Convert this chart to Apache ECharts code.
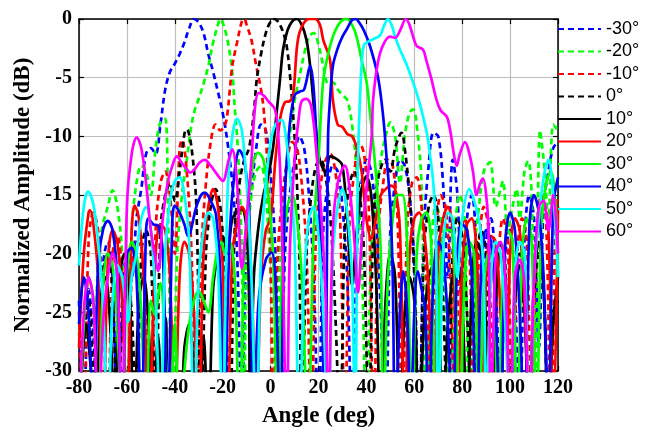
<!DOCTYPE html>
<html>
<head>
<meta charset="utf-8">
<script src="https://cdn.jsdelivr.net/npm/echarts@6/dist/echarts.min.js"></script>
<style>html,body{margin:0;padding:0;background:#fff}#c{width:651px;height:433px}</style>
</head>
<body>
<div id="c"></div>
<script>
// ---- data (angle in deg, normalized amplitude in dB) ----
var seriesNames = ['-30°','-20°','-10°','0°','10°','20°','30°','40°','50°','60°'];
var xMin = -80, xMax = 120, xStep = 20;
var yMin = -30, yMax = 0, yStep = 5;

var s_m30 = [[-80,-24],[-78,-35],[-76,-23],[-74,-27],[-72,-35],[-70,-21],[-68,-19],[-66,-22],[-64,-35],[-62,-24],[-60,-20],[-58,-22],[-56,-17],[-54,-14.5],[-52,-11.5],[-50,-11],[-48,-11.5],[-46,-9],[-44,-6],[-42,-4.5],[-40,-3.8],[-38,-3],[-36,-2],[-34,-0.8],[-32,0],[-30,-0.3],[-28,-1.2],[-26,-3],[-24,-4.5],[-22,-6.2],[-20,-8],[-18,-10.5],[-16,-14],[-14,-20],[-12,-35],[-10,-18],[-8,-14.5],[-6,-11],[-4,-9],[-2,-9.5],[0,-13],[2,-20],[4,-35],[6,-20],[8,-15],[10,-12],[12,-10],[14,-11],[16,-15],[18,-22],[20,-35],[22,-18],[24,-14],[26,-12.5],[28,-13],[30,-16],[32,-22],[34,-35],[36,-20],[38,-14],[40,-12],[42,-13],[44,-17],[46,-25],[48,-35],[50,-18],[52,-14],[54,-12],[56,-12.5],[58,-15],[60,-21],[62,-35],[64,-18],[66,-12.5],[68,-9.7],[70,-10],[72,-14],[74,-22],[76,-12],[78,-15],[80,-25],[82,-17],[84,-15],[86,-20],[88,-35],[90,-19],[92,-17],[94,-22],[96,-35],[98,-20],[100,-18],[102,-23],[104,-35],[106,-19],[108,-15],[110,-17],[112,-28],[114,-16],[116,-13],[118,-11],[120,-10.5]];

var s_m20 = [[-80,-27],[-78,-22],[-76,-25],[-74,-35],[-72,-20],[-70,-17.5],[-68,-16],[-66,-14.6],[-64,-16],[-62,-20],[-60,-35],[-58,-18],[-56,-14],[-54,-12.5],[-52,-13],[-50,-15],[-48,-11],[-46,-8.8],[-44,-8.5],[-42.8,-17],[-41,-35],[-39,-20],[-37,-15],[-35,-12],[-33,-9],[-31.6,-7.7],[-30,-6.8],[-28,-5.5],[-26,-4],[-24,-2],[-22,-0.5],[-21,0],[-20,-0.3],[-18,-1.8],[-16,-4.5],[-15,-7.5],[-14,-10],[-13,-14],[-12,-20],[-11,-35],[-10,-20],[-8,-15],[-6,-13],[-4,-12.5],[-2,-15],[0,-22],[2,-35],[4,-20],[6,-14],[8,-10],[10,-7],[12,-5],[14,-3],[16,-1.5],[18,-1.2],[20,-2.2],[22,-4],[24,-5.5],[26,-5.4],[28,-6],[30,-6.5],[32,-6.9],[34,-9],[36,-13],[38,-20],[40,-35],[42,-20],[44,-15],[46,-12],[48,-10],[50,-8.8],[52,-10],[54,-14],[56,-10],[58,-8],[59.5,-7.7],[61,-9],[63,-14],[65,-35],[67,-20],[69,-16],[71,-17],[73,-25],[75,-35],[77,-18],[79,-15],[81,-17],[83,-35],[85,-20],[87,-16],[89,-13],[91.6,-12.2],[94,-16],[96,-14.5],[97,-13.8],[99,-18],[101,-16],[102.7,-14.5],[104,-17],[106,-13],[107.5,-12.1],[109,-15],[110.5,-30],[112.5,-9.5],[114,-12],[116,-17],[118,-9],[120,-9.5]];

var s_m10 = [[-80,-25],[-78,-35],[-76,-19],[-74,-16.5],[-72,-18],[-70,-24],[-68,-35],[-66,-20],[-64,-18.5],[-62,-22],[-60,-35],[-58,-22],[-56,-19],[-54,-19.5],[-52,-25],[-50,-35],[-48,-18],[-46,-14],[-44,-13],[-42,-15],[-40,-20],[-38,-11],[-37,-10.3],[-35,-13],[-33,-20],[-31,-35],[-29,-20],[-27,-14],[-25,-10.5],[-23,-9],[-21,-9.5],[-19,-9],[-18,-8],[-17,-6],[-16,-4],[-14,-2],[-12,-0.2],[-11,0],[-10,-0.5],[-8,-1.8],[-6,-4],[-4,-6],[-3,-7.5],[-2,-10],[-1,-14],[0,-20],[1,-35],[3,-20],[5,-15],[7,-12],[9,-10.5],[11,-11],[13,-14],[15,-20],[17,-35],[19,-18],[21,-14],[23,-12],[25,-11.5],[27,-13],[29,-17],[31,-35],[33,-17],[35,-13],[37,-10.5],[39,-11.5],[41,-16],[43,-35],[45,-18],[47,-14],[49,-12],[51,-12.5],[53,-17],[55,-35],[57,-18],[59,-14],[61,-13.5],[63,-16],[65,-22],[67,-35],[69,-19],[71,-15],[73,-16],[75,-22],[77,-35],[79,-19],[81,-17],[83,-20],[85,-35],[87,-20],[89,-16],[91,-18],[93,-35],[95,-21],[97,-17],[99,-19],[101,-35],[103,-20],[105,-17],[107,-19],[109,-35],[111,-19],[113,-15],[115,-17],[117,-35],[119,-17],[120,-15]];

var s_0 = [[-80,-35],[-78,-27],[-76,-24],[-74,-30],[-72,-35],[-70,-22],[-68,-20],[-66,-23],[-64,-35],[-62,-26],[-60,-22],[-58,-25],[-56,-35],[-54,-20],[-52,-18],[-50,-20],[-48,-35],[-46,-18],[-44,-15],[-42,-14],[-40,-15.5],[-38,-13],[-36,-9.8],[-35,-9.4],[-33,-11],[-31,-16],[-29,-35],[-27,-20],[-25,-16],[-23,-14.5],[-21,-16],[-19,-22],[-17,-35],[-15,-18],[-13,-14],[-11,-12],[-9,-11],[-7,-8],[-5.8,-5.2],[-4,-3],[-2,-1.2],[0,-0.2],[1.5,0],[3,-0.2],[5,-1],[6.7,-2.3],[8,-4.6],[9,-7],[10,-10],[11,-14],[12,-20],[13,-35],[15,-20],[17,-15],[19,-12.5],[21,-12],[23,-13.5],[25,-17],[27,-25],[29,-35],[31,-18],[33,-14],[35,-13],[37,-14.5],[39,-20],[41,-35],[43,-17],[45,-13.5],[47.8,-12],[50,-13],[52,-11],[54.7,-9.7],[56,-11],[58,-15],[60,-22],[62,-35],[64,-20],[66,-16],[68,-15],[70,-17],[72,-24],[74,-35],[76,-20],[78,-17],[80,-18.5],[82,-25],[84,-35],[86,-21],[88,-18],[90,-20],[92,-35],[94,-23],[96,-19],[98,-21],[100,-35],[102,-24],[104,-20],[106,-22],[108,-35],[110,-24],[112,-20],[114,-23],[116,-35],[118,-25],[120,-24]];

var s_10 = [[-80,-35],[-77,-26],[-75,-30],[-73,-35],[-71,-24],[-69,-22],[-67,-26],[-65,-35],[-63,-22],[-61,-20],[-59,-23],[-57,-35],[-55,-24],[-53,-22],[-51,-26],[-49,-35],[-47,-27],[-45,-35],[-43.7,-25.5],[-42,-35],[-38,-35],[-36,-28],[-34,-26],[-32,-30],[-30,-35],[-28,-27],[-26,-35],[-24,-23],[-22,-20],[-20,-18.5],[-18,-20],[-16,-17],[-14,-16.5],[-12,-16.2],[-10,-18],[-9,-24],[-8.6,-35],[-7,-22],[-5,-17.6],[-3,-15],[-1,-13.4],[1,-11],[2.5,-8],[4,-5],[5.2,-2.6],[7,-1],[9,-0.2],[10.9,0],[13,-0.5],[15,-1.8],[16.5,-4],[17.8,-6.9],[19,-9.5],[20.5,-12],[23,-13],[25,-11.7],[28,-12],[30,-12.5],[32,-17],[34,-22.7],[36,-18],[38,-14.5],[40,-13.4],[42,-15],[44,-22],[46,-35],[48,-24],[50,-20],[52,-22],[54,-35],[56,-25],[58,-22],[60,-24],[62,-35],[64,-26],[66,-22],[68,-21],[70,-24],[72,-35],[74,-26],[76,-22],[78,-21],[80,-24],[82,-35],[84,-23],[86,-19],[88,-20],[90,-26],[92,-35],[94,-24],[96,-20],[98,-22],[100,-35],[102,-24],[104,-21],[106,-25],[108,-35],[110,-22],[112,-19],[114,-23],[116,-35],[118,-26],[120,-22]];

var s_20 = [[-80,-28],[-78,-20],[-76,-16.5],[-75.4,-16.3],[-74,-17.5],[-72,-22],[-70,-35],[-68,-21],[-66,-18],[-64,-19],[-62,-24],[-60,-35],[-58,-18],[-56.8,-15.9],[-55,-17],[-53,-22],[-51,-35],[-48,-20],[-46,-17.5],[-44,-18],[-42,-22],[-40,-35],[-38,-22],[-36,-19],[-34,-20],[-32,-25],[-30,-35],[-28,-20],[-26,-16],[-24,-14.5],[-22,-16],[-20,-21],[-18,-35],[-16,-20],[-14,-17.5],[-12,-16],[-10,-17],[-8,-22],[-6,-35],[-4,-22],[-2,-18],[0,-17],[2,-12],[4,-8.5],[6,-7.1],[8,-7],[9.4,-6.5],[10.9,-2.6],[12,-1.2],[14,-0.3],[16,0],[18.5,0],[20.6,-0.5],[22,-1.8],[24.8,-3.5],[26,-6.9],[28,-9],[30,-9.2],[32,-9.8],[34,-10],[36,-11],[38,-13],[40,-17],[42,-18.7],[44,-17],[46,-15],[48,-14.5],[50,-14.2],[52,-14.5],[54,-18],[56,-35],[58,-20],[60,-17],[62,-16.5],[64,-18],[66,-23],[68,-35],[70,-20],[72,-17],[74,-16],[76,-18],[78,-35],[80,-21],[82,-17.5],[84,-17],[86,-20],[88,-35],[90,-22],[92,-18.5],[94,-19],[96,-25],[98,-35],[100,-20],[102,-17],[104,-18],[106,-24],[108,-35],[110,-22],[112,-17],[114,-16],[116,-18],[118,-35],[120,-16]];

var s_30 = [[-80,-35],[-78,-26],[-76,-22],[-74,-24],[-72,-35],[-70,-23],[-68,-20],[-66,-21],[-64,-26],[-62,-35],[-60,-22],[-58,-19],[-56,-20],[-54,-25],[-52,-35],[-50,-24],[-48.4,-25.2],[-46,-22.5],[-44,-28],[-42,-35],[-40,-26],[-38,-35],[-36,-30],[-34,-26],[-32,-24],[-30,-23.2],[-28,-24],[-26,-25],[-24,-22],[-22,-19.5],[-20.7,-19],[-19,-20],[-17,-19],[-15,-22],[-13,-35],[-11,-20],[-9,-15],[-7,-12],[-5.2,-11.4],[-3,-12],[-1,-15],[1,-20],[3,-35],[5,-20],[7,-16],[9,-15],[11,-17],[13,-22],[15.6,-35],[18,-18],[20,-12],[21.9,-5.4],[24,-3],[26,-1.5],[28,-0.6],[30,-0.1],[31.8,0],[34,-0.5],[35.9,-1.5],[38,-3.5],[40.1,-5.4],[41.5,-8],[43,-11],[44.5,-14.5],[46,-20],[47,-35],[49,-22],[51,-17],[53,-15],[55,-15],[57,-19],[59,-35],[61,-20],[63,-17],[65,-16.5],[67,-19],[69,-35],[71,-21],[73,-18],[75,-18],[77,-22],[79,-35],[81,-22],[83,-19],[85,-20],[87,-35],[89,-23],[91,-20],[93,-21],[95,-35],[97,-22],[99,-18],[101,-19],[103,-35],[105,-20],[107,-17],[109,-19],[111,-35],[113,-18],[115,-14],[117,-13],[119,-16],[120,-22]];

var s_40 = [[-80,-26],[-78,-22],[-76,-25],[-74,-35],[-72,-21],[-70,-18],[-68,-17.2],[-66,-18],[-64,-22],[-62,-35],[-60,-20],[-58,-19.5],[-56,-22],[-54,-35],[-52,-18],[-51,-17],[-49,-17.5],[-47,-17.6],[-45,-20],[-43,-35],[-41,-17],[-40,-15.9],[-38,-16.5],[-36,-17.5],[-34.5,-18.5],[-31,-16],[-29,-15],[-27.5,-14.8],[-25,-15.5],[-22.8,-16.7],[-21,-22],[-19.5,-35],[-17,-18],[-15,-13],[-13,-11.2],[-11,-12],[-9,-16],[-7,-35],[-5,-24],[-2,-20.5],[0.4,-19.9],[2,-22],[4,-35],[6,-15],[8,-9],[10,-6.5],[12,-6.2],[14,-6],[16.5,-4],[18,-6],[19.5,-12],[21,-20],[22.7,-35],[24,-10],[24.8,-6.9],[26,-4],[28,-2.5],[30,-1.5],[32,-0.8],[34,-0.1],[35.5,0],[37,-0.3],[39,-1],[41.5,-2.3],[44.8,-4.9],[47,-8.3],[48.5,-12],[50,-16],[51,-22],[52,-35],[54,-25],[55.4,-21.5],[57,-25],[58.5,-35],[60,-25],[61.5,-21.5],[63,-23],[64.5,-24.7],[66,-35],[68,-22],[70,-19],[72,-20],[74,-26],[76,-35],[78,-20],[80,-17.5],[82,-18],[84,-22],[86,-35],[88,-21],[90,-18],[92,-19],[94,-25],[96,-35],[98,-19],[100,-16.5],[102,-18],[104,-25],[106,-35],[108,-18],[110,-15],[112,-16.5],[114,-22],[116,-35],[118,-16],[120,-13.5]];

var s_50 = [[-80,-21],[-78,-16],[-76.2,-14.7],[-74,-15.8],[-72,-19],[-70,-24],[-68,-35],[-66,-24],[-64,-21],[-62,-22],[-59.5,-25.8],[-58,-22],[-56,-20],[-54,-17],[-52,-16],[-50,-18],[-48,-24],[-46,-35],[-44,-20],[-42,-15.5],[-40,-13.8],[-38,-13.5],[-36,-15],[-34,-19],[-32,-35],[-30,-22],[-28,-18],[-26,-16.5],[-24,-17],[-22,-21],[-20,-35],[-18,-15],[-16,-10],[-14,-8.5],[-12,-9.5],[-10,-14],[-8,-22],[-6,-35],[-4,-20],[-2,-14],[0,-10.5],[2,-9],[4.6,-8.6],[6,-9.5],[8,-13],[10,-19],[12,-35],[14,-22],[16,-17],[18,-16],[20,-18.5],[22,-25],[24,-35],[26,-20],[28,-16],[30,-14.5],[32,-16.5],[34,-22],[35.2,-35],[36.5,-12],[37.3,-6.9],[38,-4],[39,-2.2],[41,-1.9],[43,-1.7],[45.7,-1.4],[47.5,-0.5],[49,0],[50.5,-0.5],[52,-1.5],[54,-2.6],[57,-4],[59.5,-5.4],[62,-7],[65.2,-9.7],[66.5,-11.5],[67.9,-13.9],[69,-18],[70,-35],[72,-20],[74,-16.5],[76,-17],[78,-22],[80,-17],[83,-14.5],[85,-15.5],[87.4,-17.6],[89,-22],[90,-35],[92,-22],[94,-19],[96,-20],[98,-26],[100,-35],[102,-22],[104,-19],[106,-20],[108,-35],[110,-22],[112,-17],[114,-13.5],[116,-12],[118,-15],[120,-22]];

var s_60 = [[-80,-35],[-78,-25],[-76,-22],[-74,-24],[-72,-35],[-70,-26],[-68,-22],[-66,-20],[-64,-22],[-62,-35],[-60,-16],[-58,-11.5],[-55.9,-10.1],[-54,-11],[-52,-14],[-50,-18],[-48.4,-20.1],[-47,-21.5],[-45,-17],[-43,-14],[-41,-12.5],[-39.2,-11.7],[-37,-12.3],[-35,-12.8],[-33.6,-13.1],[-31.7,-12.8],[-29.5,-12.2],[-27.5,-12],[-25,-12.5],[-22.5,-13.2],[-20,-13.8],[-17.5,-12],[-16,-11.1],[-14,-14],[-12,-21.3],[-10,-17],[-8,-12],[-6.5,-7.5],[-5,-6.3],[-3,-6.5],[-1,-7],[1.8,-7.7],[3,-9.5],[4,-13],[5,-20],[6.7,-35],[8,-20],[10,-12],[12,-8],[13,-7],[15,-6.8],[17,-7.5],[19,-11],[21,-16],[23,-24],[24,-35],[26,-18],[28,-14],[31,-12.5],[33,-14.5],[35,-19],[36.5,-23.3],[38,-19],[40,-14.5],[42.2,-10],[42.8,-6.9],[44.8,-3.7],[47,-2.2],[49.9,-1.5],[52,-1.6],[54,-1],[56.5,0],[58,-0.5],[59.5,-1.5],[61,-2.3],[63.6,-2.6],[65,-3.5],[67,-5],[69.3,-6.9],[71,-7.8],[73.5,-8.3],[75,-9.5],[76.5,-11.5],[77.7,-12.5],[79,-11.5],[81.2,-10.5],[83,-11.5],[84.5,-13],[86,-15],[87.5,-14],[88.7,-13.6],[90,-15],[91,-18],[92,-35],[94,-20],[96,-19],[98,-22],[100,-35],[102,-22],[104,-20.5],[106,-22.5],[108,-35],[110,-22],[112,-16],[114,-15.5],[116,-18],[118,-15],[120,-20]];

var seriesData = [s_m30, s_m20, s_m10, s_0, s_10, s_20, s_30, s_40, s_50, s_60];
var seriesColors = ['#0000ff','#00ff00','#ff0000','#000000','#000000','#ff0000','#00ff00','#0000ff','#00ffff','#ff00ff'];
var seriesDashed = [true,true,true,true,false,false,false,false,false,false];

var chart = echarts.init(document.getElementById('c'), null, {renderer: 'canvas'});
var serifBold = {fontFamily: '"Liberation Serif","Times New Roman",serif', fontWeight: 'bold', color: '#000', fontSize: 20};

var series = seriesData.map(function (d, i) {
  return {
    name: seriesNames[i],
    type: 'line',
    data: d,
    xAxisIndex: 0, yAxisIndex: 0,
    symbol: 'none',
    smooth: 0.35,
    clip: true,
    silent: true,
    animation: false,
    lineStyle: {color: seriesColors[i], width: 2.7, type: seriesDashed[i] ? [6, 4] : 'solid'},
    itemStyle: {color: seriesColors[i]}
  };
});

chart.setOption({
  backgroundColor: '#fff',
  animation: false,
  grid: {left: 79, right: 93, top: 19, bottom: 60, show: false},
  legend: {
    data: seriesNames,
    orient: 'vertical',
    left: 557, top: 20,
    padding: 0,
    itemWidth: 43, itemHeight: 14, itemGap: 4.5,
    itemStyle: {opacity: 0, color: 'rgba(0,0,0,0)', borderWidth: 0},
    textStyle: {fontFamily: '"Liberation Sans",Arial,sans-serif', fontSize: 18, color: '#000', lineHeight: 18},
    selectedMode: false
  },
  xAxis: [{
    type: 'value', min: xMin, max: xMax, interval: xStep, position: 'bottom',
    axisLine: {show: true, onZero: false, lineStyle: {color: '#000', width: 1.5}},
    axisTick: {show: true, inside: true, length: 5, lineStyle: {color: '#000', width: 1.2}},
    axisLabel: Object.assign({margin: 7}, serifBold),
    splitLine: {show: true, lineStyle: {color: '#bdbdbd', width: 1.2}},
    name: 'Angle (deg)', nameLocation: 'middle', nameGap: 34,
    nameTextStyle: Object.assign({}, serifBold, {fontSize: 23})
  }, {
    type: 'value', min: xMin, max: xMax, interval: xStep, position: 'top',
    axisLine: {show: true, onZero: false, lineStyle: {color: '#000', width: 1.5}},
    axisTick: {show: true, inside: true, length: 5, lineStyle: {color: '#000', width: 1.2}},
    axisLabel: {show: false}, splitLine: {show: false}
  }],
  yAxis: [{
    type: 'value', min: yMin, max: yMax, interval: yStep, position: 'left',
    axisLine: {show: true, onZero: false, lineStyle: {color: '#000', width: 1.5}},
    axisTick: {show: true, inside: true, length: 5, lineStyle: {color: '#000', width: 1.2}},
    axisLabel: Object.assign({margin: 7}, serifBold),
    splitLine: {show: true, lineStyle: {color: '#bdbdbd', width: 1.2}},
    name: 'Normalized Amplitude (dB)', nameLocation: 'middle', nameGap: 41,
    nameTextStyle: Object.assign({}, serifBold, {fontSize: 23})
  }, {
    type: 'value', min: yMin, max: yMax, interval: yStep, position: 'right',
    axisLine: {show: true, onZero: false, lineStyle: {color: '#000', width: 1.5}},
    axisTick: {show: true, inside: true, length: 5, lineStyle: {color: '#000', width: 1.2}},
    axisLabel: {show: false}, splitLine: {show: false}
  }],
  series: series
});
</script>
</body>
</html>
